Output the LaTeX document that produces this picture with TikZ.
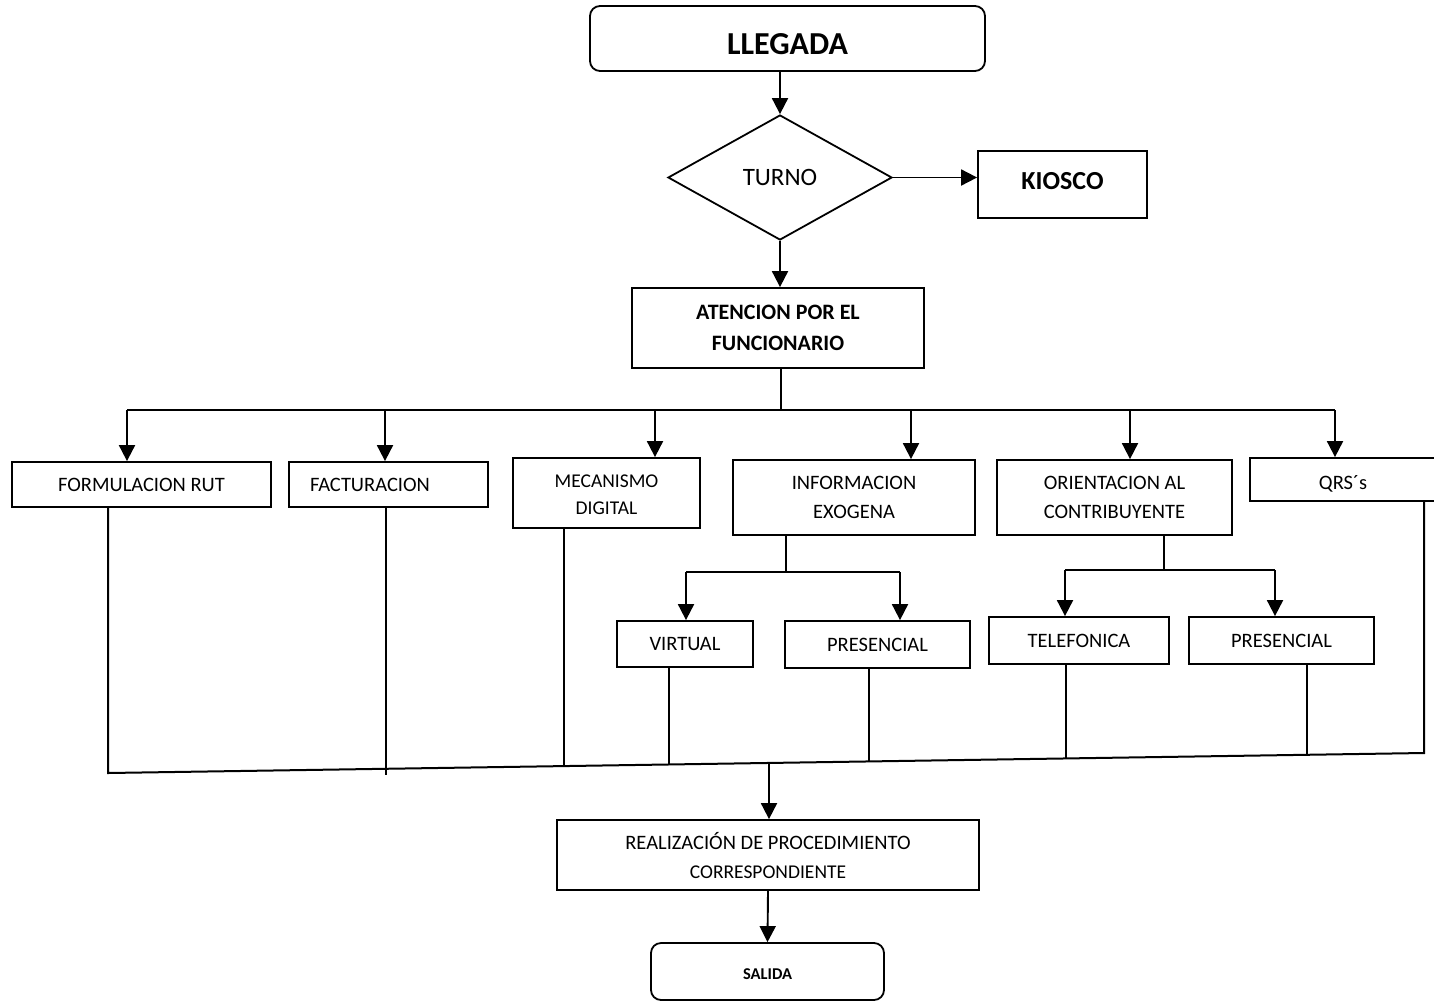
\documentclass[tikz,border=0pt]{standalone}
\usepackage{fontspec}
\setmainfont{Carlito}
\usetikzlibrary{shapes.geometric,arrows.meta}
\newcommand{\shiftdown}[2]{\raisebox{-#1}[\height][\depth]{#2}}
\begin{document}
\begin{tikzpicture}[x=1pt,y=-1pt,
  box/.style={draw,line width=1.8pt,inner sep=0pt,align=center,font=\fontsize{20.5}{29}\selectfont},
  rbox/.style={box,rounded corners=10pt},
  arr/.style={line width=1.9pt,-{Triangle[width=16pt,length=16pt]}},
  ln/.style={line width=1.9pt},
  lnthin/.style={line width=1.5pt}]
\useasboundingbox (0,0) rectangle (1434,1002);

% top of the flow
\node[rbox,minimum width=395pt,minimum height=65pt,font=\bfseries\fontsize{32}{38}\selectfont] (lleg) at (787.5,38.5) {\shiftdown{6pt}{LLEGADA}};
\node[draw,diamond,line width=1.8pt,minimum width=224pt,minimum height=125pt,inner sep=0pt,font=\fontsize{25}{30}\selectfont] (turno) at (780,177.5) {TURNO};
\node[box,minimum width=169pt,minimum height=67pt,font=\bfseries\fontsize{26}{30}\selectfont] (kio) at (1062.5,184.5) {\shiftdown{-3pt}{KIOSCO}};
\node[box,minimum width=292pt,minimum height=80pt,font=\bfseries\fontsize{22}{31}\selectfont] (aten) at (778,328) {ATENCION POR EL\\FUNCIONARIO};

% services
\node[box,minimum width=259pt,minimum height=45pt] (form) at (141.5,484.5) {FORMULACION RUT};
\node[box,minimum width=199pt,minimum height=45pt,text width=157pt,inner xsep=21pt,align=left] (fac) at (388.5,484.5) {FACTURACION};
\node[box,minimum width=187pt,minimum height=70pt,font=\fontsize{19.5}{27}\selectfont] (mec) at (606.5,493) {\shiftdown{3pt}{\begin{tabular}{@{}c@{}}MECANISMO\\[0pt]DIGITAL\end{tabular}}};
\node[box,minimum width=242pt,minimum height=75pt] (info) at (854,497.5) {INFORMACION\\EXOGENA};
\node[box,minimum width=235pt,minimum height=75pt] (orie) at (1114.5,497.5) {ORIENTACION AL\\CONTRIBUYENTE};
\node[box,minimum width=186pt,minimum height=43pt] (qrs) at (1343,479.5) {\shiftdown{4pt}{QRS´s}};

% sub-options
\node[box,minimum width=136pt,minimum height=46pt] (virt) at (685,644) {VIRTUAL};
\node[box,minimum width=185pt,minimum height=47pt] (pres1) at (877.5,644.5) {PRESENCIAL};
\node[box,minimum width=180pt,minimum height=47pt] (tele) at (1079,640.5) {TELEFONICA};
\node[box,minimum width=185pt,minimum height=47pt] (pres2) at (1281.5,640.5) {PRESENCIAL};

% end of the flow
\node[box,minimum width=422pt,minimum height=70pt] (real) at (768,855) {REALIZACIÓN DE PROCEDIMIENTO\\{\fontsize{19.5}{29}\selectfont CORRESPONDIENTE}};
\node[rbox,minimum width=233pt,minimum height=57pt,font=\bfseries\fontsize{16.5}{20}\selectfont] (sal) at (767.5,971.5) {\shiftdown{3pt}{SALIDA}};

% connectors at the top
\draw[arr] (lleg.south -| turno.north) -- (turno.north);
\draw[arr] (turno.east) -- (turno.east -| kio.west);
\draw[arr] (turno.south) -- (turno.south |- aten.north);

% distribution bus
\coordinate (tb) at (781,410);
\coordinate (t1) at (127,410);
\coordinate (t2) at (385,410);
\coordinate (t3) at (655,410);
\coordinate (t4) at (911,410);
\coordinate (t5) at (1130,410);
\coordinate (t6) at (1335,410);
\draw[ln] (aten.south -| tb) -- (tb);
\draw[ln] (t1) -- (t6);
\draw[arr] (t1) -- (t1 |- form.north);
\draw[arr] (t2) -- (t2 |- fac.north);
\draw[arr] (t3) -- (t3 |- mec.north);
\draw[arr] (t4) -- (t4 |- info.north);
\draw[arr] (t5) -- (t5 |- orie.north);
\draw[arr] (t6) -- (t6 |- qrs.north);

% branch under INFORMACION EXOGENA
\coordinate (ib) at (786,572);
\coordinate (ia) at (686,572);
\coordinate (ic) at (900,572);
\draw[ln] (info.south -| ib) -- (ib);
\draw[ln] (ia) -- (ic);
\draw[arr] (ia) -- (ia |- virt.north);
\draw[arr] (ic) -- (ic |- pres1.north);

% branch under ORIENTACION AL CONTRIBUYENTE
\coordinate (ob) at (1164,570);
\coordinate (oa) at (1065,570);
\coordinate (oc) at (1275,570);
\draw[ln] (orie.south -| ob) -- (ob);
\draw[ln] (oa) -- (oc);
\draw[arr] (oa) -- (oa |- tele.north);
\draw[arr] (oc) -- (oc |- pres2.north);

% collecting bus
\coordinate (j1) at (108,773);
\coordinate (j2) at (386,775);
\coordinate (j3) at (564,766.1);
\coordinate (j4) at (669,764.5);
\coordinate (j5) at (869,761.4);
\coordinate (j6) at (1066,758.4);
\coordinate (j7) at (1307,754.8);
\coordinate (j9) at (1424,753);
\coordinate (jr) at (769,762.9);
\draw[line width=2pt] (j1 |- form.south) -- (j1) -- (j9) -- (j9 |- qrs.south);
\draw[lnthin] (j2 |- fac.south) -- (j2);
\draw[lnthin] (j3 |- mec.south) -- (j3);
\draw[lnthin] (j4 |- virt.south) -- (j4);
\draw[lnthin] (j5 |- pres1.south) -- (j5);
\draw[lnthin] (j6 |- tele.south) -- (j6);
\draw[lnthin] (j7 |- pres2.south) -- (j7);
\draw[arr] (jr) -- (jr |- real.north);
\draw[arr] (real.south) -- (sal.north);
\end{tikzpicture}
\end{document}
